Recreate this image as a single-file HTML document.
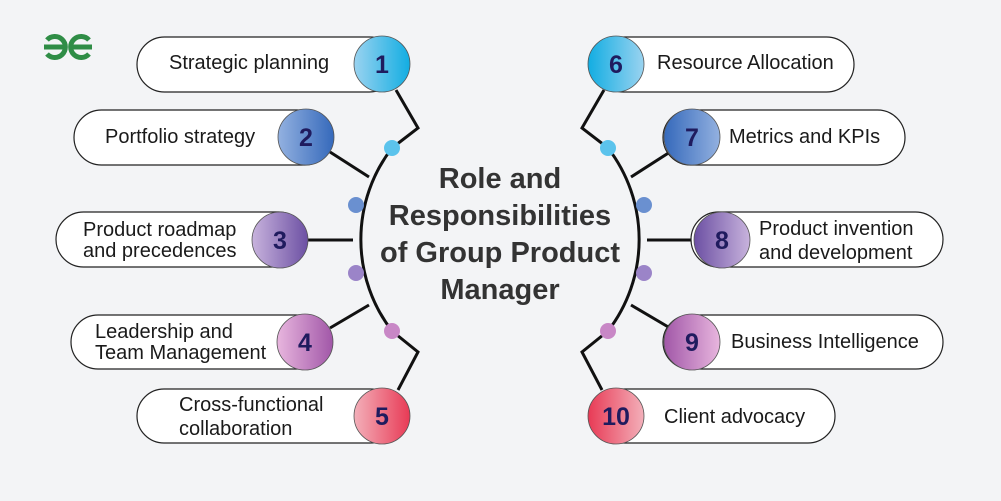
<!DOCTYPE html>
<html><head><meta charset="utf-8"><style>
html,body{margin:0;padding:0;background:#f3f4f6;}
svg{display:block}
.t{font-family:"Liberation Sans",sans-serif;font-size:20px;fill:#1a1a1a}
.n{font-family:"Liberation Sans",sans-serif;font-size:25px;font-weight:900;fill:#1f1b5e;text-anchor:middle}
.h{font-family:"Liberation Sans",sans-serif;font-size:29px;font-weight:bold;fill:#333;text-anchor:middle}
</style></head><body>
<svg width="1001" height="501" viewBox="0 0 1001 501" xmlns="http://www.w3.org/2000/svg">
<defs>
<linearGradient id="g1" x1="0" x2="1"><stop offset="0" stop-color="#9ad3f0"/><stop offset="1" stop-color="#12ade2"/></linearGradient>
<linearGradient id="g2" x1="0" x2="1"><stop offset="0" stop-color="#93b1e0"/><stop offset="1" stop-color="#3569bb"/></linearGradient>
<linearGradient id="g3" x1="0" x2="1"><stop offset="0" stop-color="#c8b3dd"/><stop offset="1" stop-color="#6c50a3"/></linearGradient>
<linearGradient id="g4" x1="0" x2="1"><stop offset="0" stop-color="#e8b6de"/><stop offset="1" stop-color="#a157a8"/></linearGradient>
<linearGradient id="g5" x1="0" x2="1"><stop offset="0" stop-color="#f3b0ba"/><stop offset="1" stop-color="#e83a55"/></linearGradient>
<linearGradient id="g6" x1="1" x2="0"><stop offset="0" stop-color="#9ad3f0"/><stop offset="1" stop-color="#12ade2"/></linearGradient>
<linearGradient id="g7" x1="1" x2="0"><stop offset="0" stop-color="#93b1e0"/><stop offset="1" stop-color="#3569bb"/></linearGradient>
<linearGradient id="g8" x1="1" x2="0"><stop offset="0" stop-color="#c8b3dd"/><stop offset="1" stop-color="#6c50a3"/></linearGradient>
<linearGradient id="g9" x1="1" x2="0"><stop offset="0" stop-color="#e8b6de"/><stop offset="1" stop-color="#a157a8"/></linearGradient>
<linearGradient id="g10" x1="1" x2="0"><stop offset="0" stop-color="#f3b0ba"/><stop offset="1" stop-color="#e83a55"/></linearGradient>
</defs>
<!-- logo -->
<g fill="none" stroke="#2f8d46" stroke-width="5">
<path d="M47 40 A10.5 10.5 0 1 1 47 54"/>
<path d="M44 47 H67"/>
<path d="M89 40 A10.5 10.5 0 1 0 89 54"/>
<path d="M69 47 H92"/>
</g>
<!-- arcs -->
<g fill="none" stroke="#111" stroke-width="3">
<path d="M392 148 A150 150 0 0 0 392 331"/>
<path d="M608 148 A150 150 0 0 1 608 331"/>
<path d="M396 90 L418 128 L392 148"/>
<path d="M330 152 L369 177"/>
<path d="M308 240 L353 240"/>
<path d="M330 328 L369 305"/>
<path d="M398 390 L418 352 L392 331"/>
<path d="M604 90 L582 128 L608 148"/>
<path d="M670 152 L631 177"/>
<path d="M692 240 L647 240"/>
<path d="M670 328 L631 305"/>
<path d="M602 390 L582 352 L608 331"/>
</g>
<circle cx="392" cy="148" r="8" fill="#5bc3ec"/>
<circle cx="356" cy="205" r="8" fill="#6a90d0"/>
<circle cx="356" cy="273" r="8" fill="#9b84c8"/>
<circle cx="392" cy="331" r="8" fill="#c887c6"/>
<circle cx="608" cy="148" r="8" fill="#5bc3ec"/>
<circle cx="644" cy="205" r="8" fill="#6a90d0"/>
<circle cx="644" cy="273" r="8" fill="#9b84c8"/>
<circle cx="608" cy="331" r="8" fill="#c887c6"/>
<!-- pills -->
<g fill="#fff" stroke="#222" stroke-width="1.2">
<rect x="137" y="37" width="260" height="55" rx="27.5"/>
<rect x="74" y="110" width="258" height="55" rx="27.5"/>
<rect x="56" y="212" width="250" height="55" rx="27.5"/>
<rect x="71" y="315" width="260" height="54" rx="27"/>
<rect x="137" y="389" width="260" height="54" rx="27"/>
<rect x="596" y="37" width="258" height="55" rx="27.5"/>
<rect x="663" y="110" width="242" height="55" rx="27.5"/>
<rect x="691" y="212" width="252" height="55" rx="27.5"/>
<rect x="663" y="315" width="280" height="54" rx="27"/>
<rect x="596" y="389" width="239" height="54" rx="27"/>
</g>
<g stroke="#555" stroke-width="0.8">
<circle cx="382" cy="64" r="28" fill="url(#g1)"/>
<circle cx="306" cy="137" r="28" fill="url(#g2)"/>
<circle cx="280" cy="240" r="28" fill="url(#g3)"/>
<circle cx="305" cy="342" r="28" fill="url(#g4)"/>
<circle cx="382" cy="416" r="28" fill="url(#g5)"/>
<circle cx="616" cy="64" r="28" fill="url(#g6)"/>
<circle cx="692" cy="137" r="28" fill="url(#g7)"/>
<circle cx="722" cy="240" r="28" fill="url(#g8)"/>
<circle cx="692" cy="342" r="28" fill="url(#g9)"/>
<circle cx="616" cy="416" r="28" fill="url(#g10)"/>
</g>
<text class="n" x="382" y="73">1</text>
<text class="n" x="306" y="146">2</text>
<text class="n" x="280" y="249">3</text>
<text class="n" x="305" y="351">4</text>
<text class="n" x="382" y="425">5</text>
<text class="n" x="616" y="73">6</text>
<text class="n" x="692" y="146">7</text>
<text class="n" x="722" y="249">8</text>
<text class="n" x="692" y="351">9</text>
<text class="n" x="616" y="425">10</text>
<text class="t" x="169" y="69">Strategic planning</text>
<text class="t" x="105" y="143">Portfolio strategy</text>
<text class="t" x="83" y="236">Product roadmap</text>
<text class="t" x="83" y="257">and precedences</text>
<text class="t" x="95" y="338">Leadership and</text>
<text class="t" x="95" y="359">Team Management</text>
<text class="t" x="179" y="411">Cross-functional</text>
<text class="t" x="179" y="435">collaboration</text>
<text class="t" x="657" y="69">Resource Allocation</text>
<text class="t" x="729" y="143">Metrics and KPIs</text>
<text class="t" x="759" y="235">Product invention</text>
<text class="t" x="759" y="259">and development</text>
<text class="t" x="731" y="348">Business Intelligence</text>
<text class="t" x="664" y="423">Client advocacy</text>
<text class="h" x="500" y="188">Role and</text>
<text class="h" x="500" y="225">Responsibilities</text>
<text class="h" x="500" y="262">of Group Product</text>
<text class="h" x="500" y="299">Manager</text>
</svg>
</body></html>
